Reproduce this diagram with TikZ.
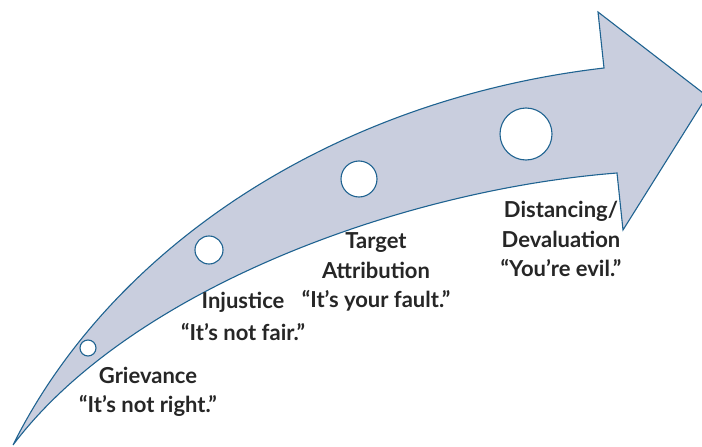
\documentclass[tikz,border=0pt]{standalone}
\usepackage{fontspec}
\setmainfont{Lato}
\begin{document}
\begin{tikzpicture}[x=1pt,y=-1pt,
  band/.style={draw=edgeblue,fill=bandfill,line width=1.1pt,line join=miter},
  stage/.style={circle,draw=edgeblue,fill=white,line width=1.1pt,inner sep=0pt},
  lbl/.style={font=\fontsize{22}{29.5}\selectfont\bfseries,text=textgray,align=center,inner sep=0pt}]
\definecolor{edgeblue}{HTML}{1F6391}
\definecolor{bandfill}{HTML}{C9CEDE}
\definecolor{textgray}{HTML}{262626}
\useasboundingbox (0,0) rectangle (702,447);
\clip (0,0) rectangle (702,447);
% curved arrow, its point running just past the right edge
\draw[band] (13,445) .. controls (110,250) and (330,100) .. (604,68)
  -- (598,12) -- (707,96) -- (623,230) -- (617,173)
  .. controls (400,190) and (130,290) .. cycle;
% stage markers
\node[stage,minimum size=16pt] (c1) at (88,348) {};
\node[stage,minimum size=28pt] (c2) at (209,250) {};
\node[stage,minimum size=36pt] (c3) at (359,179) {};
\node[stage,minimum size=52pt] (c4) at (526,134) {};
% labels
\node[lbl] (t1) at (148,392) {Grievance\\“It’s not right.”};
\node[lbl] (t2a) at (243,302) {Injustice};
\node[lbl] (t2b) at (243,332) {“It’s not fair.”};
\node[lbl] (t3) at (376,272) {Target\\Attribution\\“It’s your fault.”};
\node[lbl] (t4) at (561,239) {Distancing/\\Devaluation\\“You’re evil.”};
\end{tikzpicture}
\end{document}
